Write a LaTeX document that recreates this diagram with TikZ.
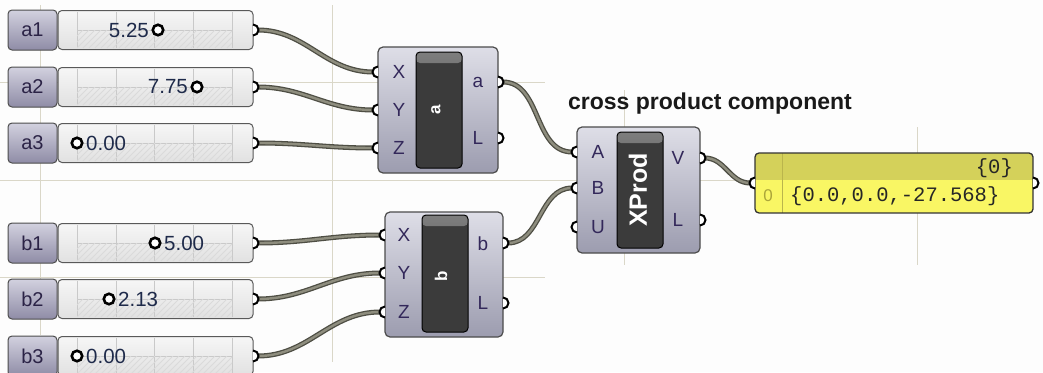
\documentclass[tikz,border=0pt]{standalone}
\usepackage{fontspec}
\setmainfont{Liberation Sans}
\newfontfamily\ghmono{Liberation Mono}
\usetikzlibrary{backgrounds}

\definecolor{bgc}{HTML}{FDFDFD}
\definecolor{gridc}{HTML}{DAD7C8}
\definecolor{wireedge}{HTML}{4E4E44}
\definecolor{wirecore}{HTML}{8E8D7E}
\definecolor{labtop}{HTML}{D2D1DF}
\definecolor{labbot}{HTML}{8F8CA6}
\definecolor{labtext}{HTML}{2B2346}
\definecolor{valtext}{HTML}{1E2A4A}
\definecolor{slidtop}{HTML}{F6F6F6}
\definecolor{slidbot}{HTML}{E1E1E1}
\definecolor{trackc}{HTML}{C9C9C9}
\definecolor{hatchc}{HTML}{DADADA}
\definecolor{comptop}{HTML}{DEDEE7}
\definecolor{compbot}{HTML}{9C9CAF}
\definecolor{comptext}{HTML}{33285A}
\definecolor{panelc}{HTML}{3B3B3B}
\definecolor{panelhi}{HTML}{7E7E7E}
\definecolor{yeltop}{HTML}{D4D15A}
\definecolor{yelbot}{HTML}{F9F664}
\definecolor{yeldiv}{HTML}{BAB54C}
\definecolor{yelidx}{HTML}{ACA63A}

\pgfdeclarelayer{bg}
\pgfsetlayers{bg,main}

\tikzset{
  gridline/.style={draw=gridc, line width=0.9},
  wire/.style={draw=wireedge, double=wirecore, double distance=2.4, line width=1.3},
  port/.style={draw=black, fill=white, line width=2},
  labelbox/.style={draw=black!70, line width=1, rounded corners=4,
    top color=labtop, bottom color=labbot, inner sep=0,
    minimum width=49, minimum height=40, text=labtext,
    font=\fontsize{20}{20}\selectfont},
  sliderbox/.style={draw=black!65, line width=1, rounded corners=4,
    top color=slidtop, bottom color=slidbot, inner sep=0,
    minimum width=195, minimum height=39},
  trackline/.style={draw=trackc, line width=0.8},
  hatchline/.style={draw=hatchc, line width=0.8},
  handle/.style={circle, draw=black, fill=white, line width=2.6,
    inner sep=0, minimum size=10.5},
  valtext/.style={text=valtext, inner sep=0, font=\fontsize{20.5}{20.5}\selectfont},
  compbody/.style={draw=black!70, line width=1.2, rounded corners=5,
    top color=comptop, bottom color=compbot, inner sep=0},
  panel/.style={draw=black, line width=1, rounded corners=4, fill=panelc, inner sep=0,
    path picture={\shade[top color=panelhi, bottom color=panelc]
      (path picture bounding box.north west) rectangle
      ([yshift=-11pt]path picture bounding box.north east);}},
  portlabel/.style={text=comptext, inner sep=0, font=\fontsize{19}{19}\selectfont},
  paneltext/.style={text=white, inner sep=0, rotate=90, font=\bfseries},
}

% number slider: name, centre y, label, value, handle x, text anchor, text x
\newcommand\ghslider[7]{%
  \begin{scope}[shift={(0,#2)}]
    \node[labelbox] (#1lab) at (32.5,0) {#3};
    \node[sliderbox] (#1) at (155.5,0) {};
    \foreach \gx in {77,116,154,193,232} \draw[trackline] (\gx,-18) -- (\gx,18);
    \draw[trackline] (77,0) -- (232,0);
    \begin{scope}
      \clip (77,0) rectangle (232,18);
      \foreach \gk in {59,65,...,233} \draw[hatchline] (\gk,18) -- (\gk+18,0);
    \end{scope}
    \draw[port] (253,-5.5) arc(270:450:5.5);
    \node[handle] (#1h) at (#5,0) {};
    \node[valtext, anchor=#6] (#1val) at (#7,0) {#4};
    \coordinate (#1out) at (258,0);
  \end{scope}}

\newcommand\inport[2]{\draw[port] (#1,#2-5.5) arc(270:90:5.5);}
\newcommand\outport[2]{\draw[port] (#1,#2-5.5) arc(270:450:5.5);}

\begin{document}
\begin{tikzpicture}[x=1pt, y=-1pt]
\useasboundingbox (0,0) rectangle (1043,372);

% ---------- sliders ----------
\ghslider{a1}{30}{a1}{5.25}{158}{east}{149}
\ghslider{a2}{87}{a2}{7.75}{197}{east}{188}
\ghslider{a3}{143}{a3}{0.00}{77}{west}{86}
\ghslider{b1}{243}{b1}{5.00}{155}{west}{164}
\ghslider{b2}{299}{b2}{2.13}{109}{west}{118}
\ghslider{b3}{356}{b3}{0.00}{77}{west}{86}

% ---------- vector component a ----------
\node[compbody, minimum width=120, minimum height=126] (compa) at (438,110) {};
\node[panel, minimum width=46, minimum height=116] (pana) at (439,110) {};
\node[paneltext, font=\fontsize{17}{17}\selectfont\bfseries] at (436,110) {a};
\node[portlabel] at (399,72) {X};
\node[portlabel] at (399,110) {Y};
\node[portlabel] at (399,148) {Z};
\node[portlabel] at (478,82) {a};
\node[portlabel] at (478,138) {L};
\inport{378}{72} \inport{378}{110} \inport{378}{148}
\outport{498}{82} \outport{498}{138}
\coordinate (ax) at (373,72);
\coordinate (ay) at (373,110);
\coordinate (az) at (373,148);
\coordinate (aout) at (503,82);

% ---------- vector component b ----------
\node[compbody, minimum width=118, minimum height=125] (compb) at (444,274.5) {};
\node[panel, minimum width=46, minimum height=117] (panb) at (445,273.5) {};
\node[paneltext, font=\fontsize{17}{17}\selectfont\bfseries] at (441,276) {b};
\node[portlabel] at (404,235) {X};
\node[portlabel] at (404,273) {Y};
\node[portlabel] at (404,312) {Z};
\node[portlabel] at (483,244) {b};
\node[portlabel] at (483,303) {L};
\inport{385}{235} \inport{385}{273} \inport{385}{312}
\outport{503}{243} \outport{503}{303}
\coordinate (bx) at (380,235);
\coordinate (by) at (380,273);
\coordinate (bz) at (380,312);
\coordinate (bout) at (508,243);

% ---------- cross product component ----------
\node[text=black!90, inner sep=0, font=\fontsize{23}{23}\selectfont\bfseries]
  (title) at (710,104) {cross product component};
\node[compbody, minimum width=123, minimum height=126] (xprod) at (638.5,190) {};
\node[panel, minimum width=46, minimum height=116] (panx) at (640,190) {};
\node[paneltext, font=\fontsize{25}{25}\selectfont\bfseries] at (638,190) {XProd};
\node[portlabel] at (598,152) {A};
\node[portlabel] at (598,188) {B};
\node[portlabel] at (598,227) {U};
\node[portlabel] at (678,158) {V};
\node[portlabel] at (678,220) {L};
\inport{577}{152} \inport{577}{188} \inport{577}{227}
\outport{700}{158} \outport{700}{220}
\coordinate (xa) at (572,152);
\coordinate (xb) at (572,188);
\coordinate (xv) at (705,158);

% ---------- data panel ----------
\begin{scope}
  \clip[rounded corners=4] (755,153) rectangle (1033,213);
  \fill[yeltop] (755,153) rectangle (1033,180);
  \fill[yelbot] (755,180) rectangle (1033,213);
  \draw[yeldiv, line width=0.9] (782,153) -- (782,213);
\end{scope}
\node[draw=black!80, line width=1.3, rounded corners=4, inner sep=0,
  minimum width=278, minimum height=60] (data) at (894,183) {};
\node[inner sep=0, anchor=east, text=black!85, font=\ghmono\fontsize{20.5}{20.5}\selectfont]
  (path0) at (1013,168) {\{0\}};
\node[inner sep=0, text=yelidx, font=\fontsize{17}{17}\selectfont] (idx0) at (768,196) {0};
\node[inner sep=0, anchor=west, text=black!85, font=\ghmono\fontsize{20.5}{20.5}\selectfont]
  (item0) at (790,196) {\{0.0,0.0,-27.568\}};
\inport{755}{183}
\outport{1033}{183}
\coordinate (din) at (750,183);

% ---------- canvas, grid and wires ----------
\begin{pgfonlayer}{bg}
  \fill[bgc] (0,0) rectangle (1043,372);
  \draw[gridline] (40,5) -- (40,335);
  \draw[gridline] (332,5) -- (332,362);
  \draw[gridline] (0,82) -- (545,82);
  \draw[gridline] (0,180) -- (750,180);
  \draw[gridline] (0,277) -- (545,277);
  \draw[gridline] (624,90) -- (624,265);
  \draw[gridline] (917,127) -- (917,265);

  \draw[wire] (a1out) to[out=0, in=180] (ax);
  \draw[wire] (a2out) to[out=0, in=180] (ay);
  \draw[wire] (a3out) to[out=0, in=180] (az);
  \draw[wire] (b1out) to[out=0, in=180] (bx);
  \draw[wire] (b2out) to[out=0, in=180] (by);
  \draw[wire] (b3out) to[out=0, in=180] (bz);
  \draw[wire] (aout) to[out=0, in=180] (xa);
  \draw[wire] (bout) to[out=0, in=180] (xb);
  \draw[wire] (xv) to[out=0, in=180] (din);
\end{pgfonlayer}
\end{tikzpicture}
\end{document}
